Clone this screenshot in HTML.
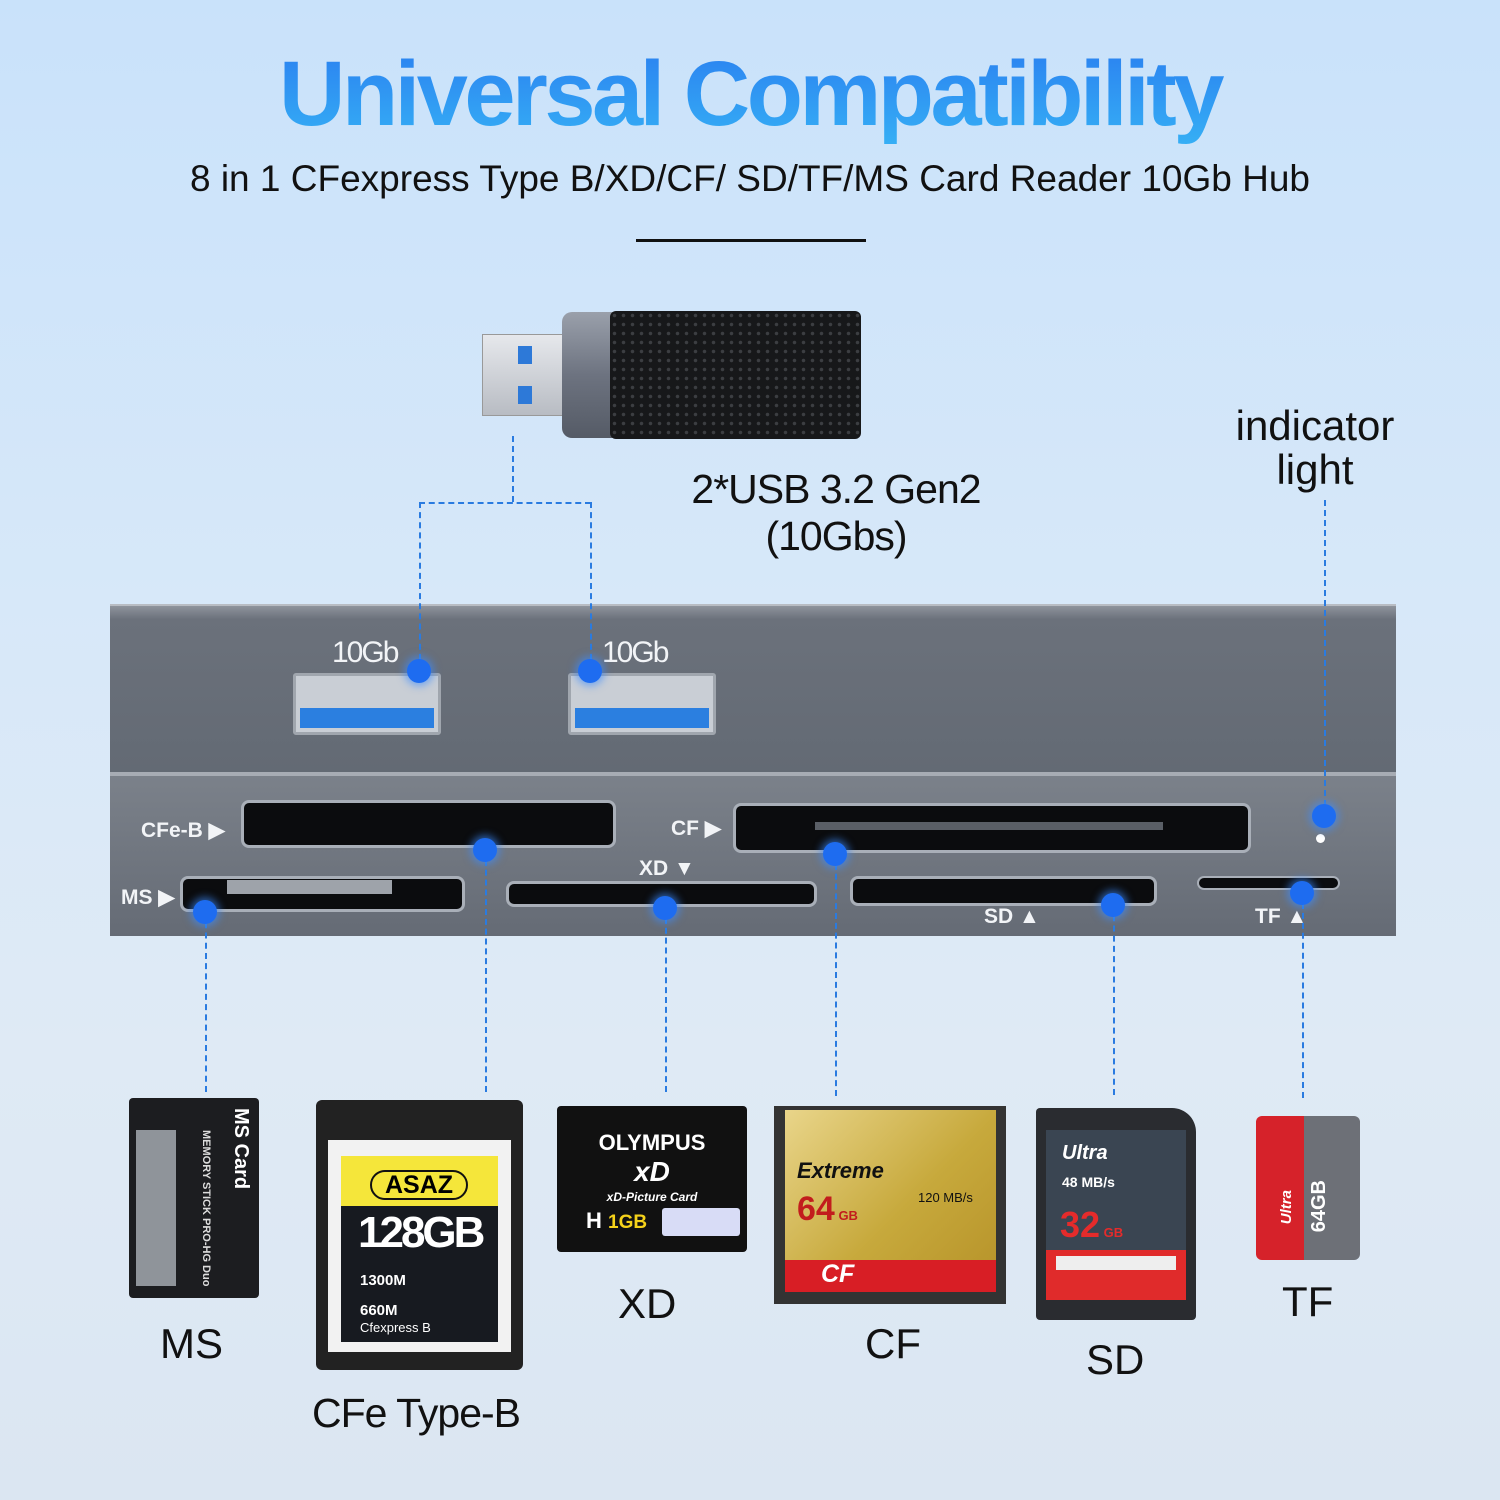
<!DOCTYPE html>
<html><head><meta charset="utf-8"><style>
*{margin:0;padding:0;box-sizing:border-box}
body{width:1500px;height:1500px;position:relative;overflow:hidden;font-family:"Liberation Sans",sans-serif;background:linear-gradient(180deg,#c9e2fa 0%,#d7e8f9 40%,#dfeaf5 70%,#dbe6f2 100%)}
.a{position:absolute}
.t{color:#111}
.dot{position:absolute;width:24px;height:24px;border-radius:50%;background:#1e6cf0;box-shadow:0 0 8px 3px rgba(60,140,255,.6)}
.vl{position:absolute;border-left:2px dashed #2a7be0;width:0}
.hl{position:absolute;border-top:2px dashed #2a7be0;height:0}
.slot{position:absolute;background:#0b0c0e;border:3px solid #a9afb8;border-radius:8px}
.lbl{position:absolute;color:#f2f4f7;font-weight:bold;font-size:21px}
</style></head><body>
<div class="a" style="left:0;top:42px;width:1500px;text-align:center;font-size:92px;font-weight:bold;letter-spacing:-3.5px;color:#2f8ef0;background:linear-gradient(180deg,#2a7ff0,#36b0f5);-webkit-background-clip:text;background-clip:text;-webkit-text-fill-color:transparent">Universal Compatibility</div>
<div class="a t" style="left:0;top:158px;width:1500px;text-align:center;font-size:37px">8 in 1 CFexpress Type B/XD/CF/ SD/TF/MS Card Reader 10Gb Hub</div>
<div class="a" style="left:636px;top:239px;width:230px;height:3px;background:#111"></div>

<!-- usb stick -->
<div class="a" style="left:482px;top:334px;width:90px;height:82px;background:linear-gradient(180deg,#e6e8ec,#b8bcc3);border:1px solid #999"></div>
<div class="a" style="left:518px;top:346px;width:14px;height:18px;background:#2d79d8"></div>
<div class="a" style="left:518px;top:386px;width:14px;height:18px;background:#2d79d8"></div>
<div class="a" style="left:562px;top:312px;width:60px;height:126px;background:linear-gradient(180deg,#9aa0ab,#6d7380 50%,#555b66);border-radius:10px 0 0 10px"></div>
<div class="a" style="left:610px;top:311px;width:251px;height:128px;background:#17181a;background-image:radial-gradient(#3c3e42 1.5px,transparent 2px);background-size:9px 9px;border-radius:6px"></div>

<div class="a t" style="left:636px;top:466px;font-size:41px;text-align:center;width:400px;line-height:47px;letter-spacing:-1px;white-space:nowrap">2*USB 3.2 Gen2<br>(10Gbs)</div>
<div class="a t" style="left:1230px;top:404px;font-size:42px;text-align:center;width:170px;line-height:44px">indicator<br>light</div>

<!-- device -->
<div class="a" style="left:110px;top:604px;width:1286px;height:168px;background:linear-gradient(180deg,#8e939c 0,#6b717b 8%,#636a74 100%);border-top:2px solid #b8bcc3"></div>
<div class="a" style="left:110px;top:772px;width:1286px;height:164px;background:linear-gradient(180deg,#7b818a,#656b75);border-top:4px solid #a7acb4"></div>
<div class="lbl" style="left:332px;top:636px;font-size:30px;font-weight:normal;letter-spacing:-2px">10Gb</div>
<div class="lbl" style="left:602px;top:636px;font-size:30px;font-weight:normal;letter-spacing:-2px">10Gb</div>
<div class="a" style="left:293px;top:673px;width:148px;height:62px;background:#c9ced5;border:3px solid #a0a6ae;border-radius:3px"></div>
<div class="a" style="left:300px;top:708px;width:134px;height:20px;background:#2b7fe0"></div>
<div class="a" style="left:568px;top:673px;width:148px;height:62px;background:#c9ced5;border:3px solid #a0a6ae;border-radius:3px"></div>
<div class="a" style="left:575px;top:708px;width:134px;height:20px;background:#2b7fe0"></div>

<div class="lbl" style="left:141px;top:818px">CFe-B ▶</div>
<div class="slot" style="left:241px;top:800px;width:375px;height:48px"></div>
<div class="lbl" style="left:671px;top:816px">CF ▶</div>
<div class="slot" style="left:733px;top:803px;width:518px;height:50px"></div>
<div class="a" style="left:815px;top:822px;width:348px;height:8px;background:#5a5f66"></div>
<div class="lbl" style="left:121px;top:885px">MS ▶</div>
<div class="slot" style="left:180px;top:876px;width:285px;height:36px"></div>
<div class="a" style="left:227px;top:880px;width:165px;height:14px;background:#9ea3aa"></div>
<div class="lbl" style="left:639px;top:857px">XD ▼</div>
<div class="slot" style="left:506px;top:881px;width:311px;height:26px"></div>
<div class="slot" style="left:850px;top:876px;width:307px;height:30px"></div>
<div class="lbl" style="left:984px;top:905px">SD ▲</div>
<div class="slot" style="left:1197px;top:876px;width:143px;height:14px;border-width:2px"></div>
<div class="lbl" style="left:1255px;top:905px">TF ▲</div>
<div class="a" style="left:1316px;top:834px;width:9px;height:9px;border-radius:50%;background:#fff"></div>

<!-- lines -->
<div class="vl" style="left:512px;top:436px;height:66px"></div>
<div class="hl" style="left:419px;top:502px;width:172px"></div>
<div class="vl" style="left:419px;top:502px;height:168px"></div>
<div class="vl" style="left:590px;top:502px;height:168px"></div>
<div class="vl" style="left:1324px;top:500px;height:316px"></div>
<div class="vl" style="left:205px;top:912px;height:180px"></div>
<div class="vl" style="left:485px;top:850px;height:242px"></div>
<div class="vl" style="left:665px;top:908px;height:184px"></div>
<div class="vl" style="left:835px;top:854px;height:242px"></div>
<div class="vl" style="left:1113px;top:905px;height:190px"></div>
<div class="vl" style="left:1302px;top:893px;height:205px"></div>
<div class="dot" style="left:407px;top:659px"></div>
<div class="dot" style="left:578px;top:659px"></div>
<div class="dot" style="left:1312px;top:804px"></div>
<div class="dot" style="left:473px;top:838px"></div>
<div class="dot" style="left:823px;top:842px"></div>
<div class="dot" style="left:193px;top:900px"></div>
<div class="dot" style="left:653px;top:896px"></div>
<div class="dot" style="left:1101px;top:893px"></div>
<div class="dot" style="left:1290px;top:881px"></div>

<!-- cards -->
<div class="a" style="left:129px;top:1098px;width:130px;height:200px;background:#1c1d20;border-radius:4px"></div>
<div class="a" style="left:136px;top:1130px;width:40px;height:156px;background:#8f949a"></div>
<div class="a" style="left:229px;top:1108px;color:#fff;font-size:20px;font-weight:bold;writing-mode:vertical-rl">MS Card</div>
<div class="a" style="left:200px;top:1130px;color:#ddd;font-size:11px;font-weight:bold;writing-mode:vertical-rl">MEMORY STICK PRO-HG Duo</div>
<div class="a t" style="left:160px;top:1320px;font-size:42px">MS</div>

<div class="a" style="left:316px;top:1100px;width:207px;height:270px;background:#222;border-radius:6px"></div>
<div class="a" style="left:328px;top:1140px;width:183px;height:212px;background:#f2f2f2"></div>
<div class="a" style="left:341px;top:1156px;width:157px;height:186px;background:#171a20"></div>
<div class="a" style="left:341px;top:1156px;width:157px;height:50px;background:#f5e63a"></div>
<div class="a" style="left:370px;top:1170px;width:98px;height:30px;border:2px solid #111;border-radius:15px;font-weight:bold;font-size:25px;text-align:center;line-height:26px">ASAZ</div>
<div class="a" style="left:358px;top:1208px;color:#fff;font-weight:bold;font-size:44px;letter-spacing:-3px">128GB</div>
<div class="a" style="left:360px;top:1272px;color:#fff;font-weight:bold;font-size:15px">1300M</div>
<div class="a" style="left:360px;top:1302px;color:#fff;font-weight:bold;font-size:15px">660M<br><span style="font-weight:normal;font-size:13px">Cfexpress B</span></div>
<div class="a t" style="left:312px;top:1390px;font-size:41px;letter-spacing:-1px">CFe Type-B</div>

<div class="a" style="left:557px;top:1106px;width:190px;height:146px;background:#111;border-radius:4px"></div>
<div class="a" style="left:557px;top:1130px;width:190px;text-align:center;color:#fff;font-weight:bold;font-size:22px">OLYMPUS</div>
<div class="a" style="left:557px;top:1156px;width:190px;text-align:center;color:#fff;font-weight:bold;font-style:italic;font-size:28px">xD</div>
<div class="a" style="left:557px;top:1190px;width:190px;text-align:center;color:#fff;font-style:italic;font-size:12px;font-weight:bold">xD-Picture Card</div>
<div class="a" style="left:586px;top:1208px;color:#fff;font-weight:bold;font-size:22px">H <span style="color:#f5d21a;font-size:19px">1GB</span></div>
<div class="a" style="left:662px;top:1208px;width:78px;height:28px;background:#d8dcf6;border-radius:3px"></div>
<div class="a t" style="left:618px;top:1280px;font-size:42px">XD</div>

<div class="a" style="left:774px;top:1106px;width:232px;height:198px;background:#333"></div>
<div class="a" style="left:785px;top:1110px;width:211px;height:150px;background:linear-gradient(135deg,#e9d58a,#c7a93c 60%,#b9962c)"></div>
<div class="a" style="left:785px;top:1260px;width:211px;height:32px;background:#d81e25;color:#fff;font-weight:bold;font-style:italic;font-size:25px;padding-left:36px">CF</div>
<div class="a" style="left:797px;top:1158px;color:#111;font-weight:bold;font-style:italic;font-size:22px">Extreme</div>
<div class="a" style="left:797px;top:1190px;color:#c21d1d;font-weight:bold;font-size:34px">64<span style="font-size:13px"> GB</span></div>
<div class="a" style="left:918px;top:1190px;color:#111;font-size:13px">120 MB/s</div>
<div class="a t" style="left:865px;top:1320px;font-size:42px">CF</div>

<div class="a" style="left:1036px;top:1108px;width:160px;height:212px;background:#2a2c30;border-radius:4px 24px 4px 4px"></div>
<div class="a" style="left:1046px;top:1130px;width:140px;height:170px;background:#3a4552"></div>
<div class="a" style="left:1046px;top:1250px;width:140px;height:50px;background:#e02b2b"></div>
<div class="a" style="left:1056px;top:1256px;width:120px;height:14px;background:#eee"></div>
<div class="a" style="left:1062px;top:1142px;color:#fff;font-style:italic;font-weight:bold;font-size:20px">Ultra</div>
<div class="a" style="left:1062px;top:1174px;color:#fff;font-weight:bold;font-size:14px">48 MB/s</div>
<div class="a" style="left:1060px;top:1204px;color:#e52b2b;font-weight:bold;font-size:36px">32<span style="font-size:13px"> GB</span></div>
<div class="a t" style="left:1086px;top:1336px;font-size:42px">SD</div>

<div class="a" style="left:1256px;top:1116px;width:50px;height:144px;background:#d6222a;border-radius:6px 0 0 6px"></div>
<div class="a" style="left:1304px;top:1116px;width:56px;height:144px;background:#6d7077;border-radius:0 6px 6px 0"></div>
<div class="a" style="left:1278px;top:1190px;color:#fff;font-weight:bold;font-style:italic;font-size:15px;writing-mode:vertical-rl;transform:rotate(180deg)">Ultra</div>
<div class="a" style="left:1308px;top:1180px;color:#fff;font-weight:bold;font-size:20px;writing-mode:vertical-rl;transform:rotate(180deg)">64GB</div>
<div class="a t" style="left:1282px;top:1278px;font-size:42px">TF</div>
</body></html>
